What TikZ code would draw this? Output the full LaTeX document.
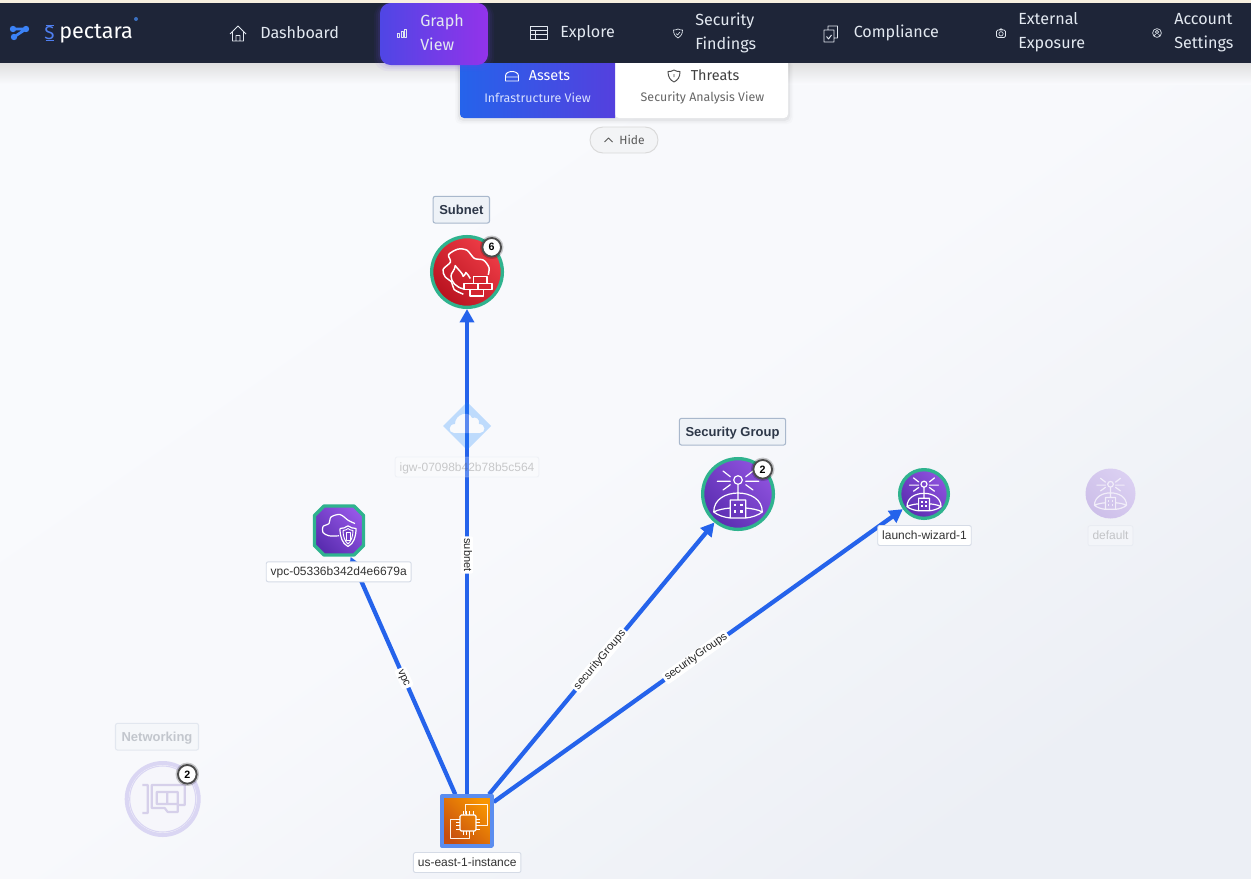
\documentclass[tikz,border=0pt]{standalone}
\usepackage{fontspec}
\setmainfont{Liberation Sans}
\newfontfamily\navfont{Fira Sans}
\usetikzlibrary{arrows.meta,shapes.geometric}
\definecolor{navbg}{HTML}{1E2538}
\definecolor{navtext}{HTML}{E2E8F0}
\definecolor{edgeblue}{HTML}{2563EB}
\definecolor{ringgreen}{HTML}{2FB38E}
\definecolor{titletext}{HTML}{2D3748}
\definecolor{TitleEdge}{HTML}{A9B8CC}
\definecolor{TitleFill}{HTML}{EEF2F7}
\definecolor{NameEdge}{HTML}{D5DBE6}
\definecolor{RedDark}{HTML}{B8121F}
\definecolor{RedLight}{HTML}{EF3D47}
\definecolor{BrickRed}{HTML}{D4242F}
\definecolor{PurpDark}{HTML}{5A2DB0}
\definecolor{PurpLight}{HTML}{8F52DE}
\definecolor{VpcLight}{HTML}{9556E6}
\definecolor{VpcMid}{HTML}{7440C8}
\definecolor{OrangeDark}{HTML}{C64E10}
\definecolor{OrangeLight}{HTML}{F89500}
\definecolor{InstEdge}{HTML}{5B8DEF}
\definecolor{PaleDark}{HTML}{CDBFE9}
\definecolor{PaleLight}{HTML}{DBD0F2}
\definecolor{IconPale}{HTML}{F1EDF9}
\definecolor{NetRing}{HTML}{DAD6F3}
\definecolor{NetFill}{HTML}{F6F6FB}
\definecolor{NetCardc}{HTML}{D6D0EA}
\definecolor{PageTop}{HTML}{F9FAFD}
\definecolor{PageMid}{HTML}{F8F9FC}
\definecolor{PageEnd}{HTML}{ECEFF5}
\definecolor{IgwBlue}{HTML}{1485FF}
\definecolor{TabEnd}{HTML}{5440DE}
\definecolor{TabSubOn}{HTML}{D8E0FF}
\definecolor{HideFill}{HTML}{F3F4F6}
\definecolor{TopStrip}{HTML}{F7EFDF}
\definecolor{GlowBlue}{HTML}{6D4BEA}
\definecolor{ViewLeft}{HTML}{4F46E5}
\definecolor{ViewRight}{HTML}{9333EA}
\definecolor{LogoBlue}{HTML}{3B82F6}
\definecolor{SBlue}{HTML}{4F7FF0}
\definecolor{SDot}{HTML}{3A6FC0}
\pgfdeclarelayer{edgelayer}
\pgfsetlayers{edgelayer,main}
\tikzset{
	gradfill/.style 2 args={shade,shading=axis,top color=#2,bottom color=#1,shading angle=-45},
	assetcirc/.style={circle,inner sep=0,draw=ringgreen,line width=2.5pt,minimum size=#1*.75pt},
	edgeline/.style={draw=edgeblue,line width=3.2pt,-{Triangle[length=10pt,width=10.5pt]}},
	edgelabel/.style={fill=white,rounded corners=1.5pt,inner xsep=1.5pt,inner ysep=.8pt,text height=6pt,text depth=1.7pt,font=\fontsize{8.25}{9}\selectfont,text=black!85},
	titlebox/.style={draw=TitleEdge,fill=TitleFill,rounded corners=1.5pt,line width=.8pt,inner xsep=4.6pt,inner ysep=0,minimum height=20pt,text height=8.5pt,text depth=2pt,font=\fontsize{9.75}{11}\selectfont\bfseries,text=titletext},
	namebox/.style={draw=NameEdge,fill=white,rounded corners=1.5pt,line width=.7pt,inner xsep=3.3pt,inner ysep=0,minimum height=15pt,text height=8pt,text depth=2pt,font=\fontsize{9}{11}\selectfont,text=black!80},
	countbadge/.style={circle,fill=white,draw=black!70,line width=1.4pt,inner sep=0,minimum size=14pt,font=\fontsize{8}{8}\selectfont\bfseries,preaction={draw=black,opacity=.2,line width=3.6pt}},
	navitem/.style={anchor=west,inner sep=0,align=left,font=\navfont\fontsize{12.1}{18}\selectfont,text=navtext},
	tabmain/.style={inner sep=0,font=\navfont\fontsize{10.8}{12}\selectfont},
	tabsub/.style={inner sep=0,font=\navfont\fontsize{9.3}{11}\selectfont},
	navicon/.style={draw=navtext,line width=.7pt,line join=round},
	sgicon/.pic={
		\draw[#1,line width=.9pt,line cap=round] (0,-14) circle (4.3) (0,-9.7)--(0,6)
			(-15,-23)--(-7.7,-17.3) (-20.7,-12.7)--(-7.7,-12.7) (-15,-4)--(-7.7,-9.3)
			(15,-23)--(7.7,-17.3) (20.7,-12.7)--(7.7,-12.7) (15,-4)--(7.7,-9.3)
			(-24.3,18) .. controls (-24.3,5) and (-12,-1) .. (0,-1) .. controls (12,-1) and (24.3,5) .. (24.3,18)
			(-24.3,18) .. controls (-20,15.5) and (-13,14.5) .. (-7.7,14) (24.3,18) .. controls (20,15.5) and (13,14.5) .. (7.7,14)
			(-24.3,18) .. controls (-20,21.5) and (-13,23.5) .. (-7.7,24) (24.3,18) .. controls (20,21.5) and (13,23.5) .. (7.7,24)
			(-7.7,6) rectangle (7.7,24);
		\foreach \wx in {-3.3,3.3} \foreach \wy in {11,17.3}
			\fill[#1] (\wx-1.2,\wy-1.2) rectangle (\wx+1.2,\wy+1.2);
	},
}
\begin{document}
\begin{tikzpicture}[x=.75pt,y=-.75pt,line join=round]
	\useasboundingbox (0,0) rectangle (1251,878);
	% asset nodes
	\node[assetcirc=70.7,gradfill={RedDark}{RedLight}] (subnet) at (467,272) {};
	\node[assetcirc=70.7,gradfill={PurpDark}{PurpLight}] (secgroup) at (738,494) {};
	\node[assetcirc=48.7,gradfill={PurpDark}{PurpLight}] (launch) at (924,494) {};
	\node[rectangle,inner sep=0,minimum size=39pt] (vpc) at (339,530.5) {};
	\node[rectangle,inner sep=0,draw=InstEdge,line width=2.5pt,minimum size=37.5pt,gradfill={OrangeDark}{OrangeLight}] (instance) at (467,821) {};
	\node[circle,inner sep=0,minimum size=37.5pt,gradfill={PaleDark}{PaleLight}] (default) at (1110.5,493.5) {};
	\node[circle,inner sep=0,draw=NetRing,fill=NetFill,line width=3pt,minimum size=54pt] (netcard) at (162.7,799) {};
	% edges and page go under the nodes
	\begin{pgfonlayer}{edgelayer}
	\shade[shading=axis,top color=PageTop,bottom color=PageEnd,middle color=PageMid,shading angle=35] (0,0) rectangle (1251,878);
	\shade[top color=black!14,bottom color=PageTop] (0,60) rectangle (1251,84);
	\draw[edgeline] (instance)--(subnet);
	\draw[edgeline] (instance)--(vpc);
	\draw[edgeline] (instance)--(secgroup);
	\draw[edgeline] (instance)--(launch);
	\end{pgfonlayer}
	% edge labels
	\node[edgelabel,rotate=-90] (lblsubnet) at (467,555) {subnet};
	\node[edgelabel,rotate=-66] (lblvpc) at (404,678) {vpc};
	\node[edgelabel,rotate=50] (lblsg) at (600,660) {securityGroups};
	\node[edgelabel,rotate=35.6] (lblwizard) at (696,657) {securityGroups};
	% igw sits faded on top of the edge
	\begin{scope}[shift={(467,426)}]
	\def\cloudpath{(-13,7) .. controls (-19,7) and (-19,-2) .. (-12,-2) .. controls (-12,-12) and (2,-16) .. (5,-8) .. controls (9,-9.5) and (13,-7) .. (12,-2) .. controls (19,-2) and (19,7) .. (13,7) -- cycle}
	\fill[IgwBlue,opacity=.25,even odd rule] (-24,0)--(0,-24)--(24,0)--(0,24)--cycle \cloudpath;
	\fill[white,opacity=.25] \cloudpath;
	\end{scope}
	% firewall icon
	\begin{scope}[shift={(467,273)},scale=1.1]
	\draw[white,line width=1.1pt] plot[smooth] coordinates {(-3.3,19.3) (-11.7,15) (-14,8.3) (-20,3.3) (-21.7,-3.3) (-15,-10) (-16.7,-16.7) (-8.3,-21.7) (0,-20.7) (6.7,-13.3) (15,-11.7) (20,-5) (19.3,1.7)};
	\draw[white,line width=1.1pt] (3,5) .. controls (2,2.5) and (0,1) .. (-1,-.5) .. controls (-1.5,1) and (-2.5,2.5) .. (-3.5,3) .. controls (-4,0) and (-8,-3) .. (-10.7,-6.7) .. controls (-11,-2) and (-15,0) .. (-14.5,3) .. controls (-14.5,8) and (-10,13) .. (-3,14.5);
	\filldraw[draw=white,fill=BrickRed,line width=1.1pt] (6,3.3) rectangle (18.3,9.3) (-2.7,9.3) rectangle (9.3,15) (10,9.3) rectangle (22.7,15) (2.7,15) rectangle (15,20.7);
	\end{scope}
	% security group icons
	\pic at (738,494) {sgicon=white};
	\pic[scale=.7] at (924,494) {sgicon=white};
	\pic[scale=.66] at (1110.5,493.5) {sgicon=IconPale};
	% vpc octagon and icon
	\begin{scope}[shift={(339,530.5)}]
	\draw[ringgreen,line width=2.5pt,gradfill={PurpDark}{VpcLight}] (-24.5,-15)--(-15,-24.5)--(15,-24.5)--(24.5,-15)--(24.5,15)--(15,24.5)--(-15,24.5)--(-24.5,15)--cycle;
	\draw[white,line width=.9pt] plot[smooth] coordinates {(0,5.3) (-10,5.3) (-16,2) (-16,-4) (-10,-7) (-8,-13.5) (1,-16) (9.5,-10) (16,-7)};
	\filldraw[draw=white,fill=VpcMid,line width=.9pt] (1,-2) .. controls (4,-2) and (7,-3) .. (9,-4.7) .. controls (11,-3) and (14,-2) .. (17,-2) .. controls (17,6) and (15,13) .. (9,16) .. controls (3,13) and (1,6) .. (1,-2);
	\draw[white,line width=.7pt] (4,0) .. controls (6,0) and (8,-1) .. (9,-2) .. controls (10,-1) and (12,0) .. (14,0) .. controls (14,6) and (12,11) .. (9,13.5) .. controls (6,11) and (4,6) .. (4,0);
	\draw[white,line width=.7pt] (7,1.5) rectangle (11,10);
	\end{scope}
	% instance icon
	\begin{scope}[shift={(467,821)}]
	\draw[white!90!orange,line width=.7pt] (-2,-7)--(-2,-17)--(20,-17)--(20,4)--(11,4) (-9,-2)--(-17,-2)--(-17,17)--(2,17)--(2,11);
	\draw[white,line width=.9pt,rounded corners=1pt] (-7,-6) rectangle (9,10);
	\foreach \p in {-4,-.7,2.6,6} {
		\draw[white,line width=.5pt] (\p,-10)--(\p,-6) (\p,10)--(\p,14) (-11,\p+2)--(-7,\p+2) (9,\p+2)--(13,\p+2);
	}
	\end{scope}
	% networking icon
	\begin{scope}[shift={(162.7,799)}]
	\draw[NetRing,line width=.8pt] (0,0) circle (33);
	\draw[NetCardc,line width=1.6pt] (-20.3,-14)--(-15,-14)--(-15,14)--(-20.3,14)
		(-11,-14)--(22,-14)--(22,6)--(15,6)--(15,13)--(5,13)--(2,9)--(-11,9)--cycle
		(-6,-7) rectangle (15,5) (4.5,-7)--(4.5,5);
	\end{scope}
	% badges
	\node[countbadge] (subnetcount) at (491.7,247.3) {6};
	\node[countbadge] (sgcount) at (762.7,469.3) {2};
	\node[countbadge] (netcount) at (187.3,774.3) {2};
	% titles and names
	\node[titlebox] (subnettitle) at (461.3,209.7) {Subnet};
	\node[titlebox] (sgtitle) at (732.5,431.7) {Security Group};
	\node[titlebox,opacity=.25] (nettitle) at (157,736.7) {Networking};
	\node[namebox,opacity=.25] (igwname) at (467,467) {igw-07098b42b78b5c564};
	\node[namebox] (vpcname) at (338.7,571.8) {vpc-05336b342d4e6679a};
	\node[namebox] (launchname) at (924.5,535.5) {launch-wizard-1};
	\node[namebox,opacity=.25] (defaultname) at (1110.5,535.7) {default};
	\node[namebox] (instancename) at (467.2,862.5) {us-east-1-instance};
	% view switch under the bar
	\foreach \d/\o in {5/.015,3.5/.025,2/.04} {
		\fill[black,opacity=\o,rounded corners=4pt] (460-\d,60) rectangle (788+\d,119+\d);
	}
	\fill[white] (615,60) -- (788,60) {[rounded corners=3pt] -- (788,118) -- (615,118)} -- cycle;
	\shade[left color=edgeblue,right color=TabEnd] (460,60) {[rounded corners=3pt] -- (460,118)} -- (615,118) -- (615,60) -- cycle;
	\draw[white,line width=.7pt] (505.5,81) -- (505.5,76) .. controls (505.5,70) and (518.5,70) .. (518.5,76) -- (518.5,81) -- cycle (505.5,77) -- (518.5,77);
	\draw[black!70,line width=.7pt] (674,70) .. controls (676,71.5) and (678,71.5) .. (680,71.5) .. controls (680,77) and (678,80) .. (674,82) .. controls (670,80) and (668,77) .. (668,71.5) .. controls (670,71.5) and (672,71.5) .. (674,70) (674,74)--(674,77);
	\node[tabmain,text=white] (assets) at (549.5,75.5) {Assets};
	\node[tabsub,text=TabSubOn] (assetssub) at (537.5,97.5) {Infrastructure View};
	\node[tabmain,text=black!75] (threats) at (715,75.5) {Threats};
	\node[tabsub,text=black!60] (threatssub) at (702.5,97.5) {Security Analysis View};
	\node[draw=black!15,fill=HideFill,rounded corners=9.7pt,minimum width=51pt,minimum height=19.5pt,inner sep=0,line width=.7pt] (hidebtn) at (624,140) {};
	\draw[black!65,line width=.7pt] (604.5,142)--(608.5,138)--(612.5,142);
	\node[inner sep=0,font=\navfont\fontsize{9}{11}\selectfont,text=black!65] (hidetext) at (632,140) {Hide};
	% top bar
	\fill[TopStrip] (0,0) rectangle (1251,3);
	\fill[navbg] (0,3) rectangle (1251,63);
	\foreach \d/\o in {6/.05,4/.07,2/.09} {
		\fill[GlowBlue,opacity=\o,rounded corners=10pt] (380-\d,3) rectangle (488+\d,65+\d);
	}
	\shade[left color=ViewLeft,right color=ViewRight,rounded corners=8pt] (380,3) rectangle (488,65);
	% logo
	\draw[LogoBlue,line width=2pt] (13,29)--(26,29)--(14,37);
	\foreach \dx/\dy in {13/29,26/29,14/37} {
		\fill[LogoBlue] (\dx,\dy) circle (3.2);
	}
	\node[inner sep=0,font=\navfont\fontsize{14}{14}\selectfont,text=SBlue] (logos) at (49.5,33) {S};
	\draw[SBlue,line width=.6pt] (45.5,25.5)--(53.5,25.5) (45.5,40.5)--(53.5,40.5);
	\node[inner sep=0,anchor=west,font=\navfont\fontsize{16.2}{18}\selectfont,text=white] (logotext) at (59,34) {pectara};
	\fill[SDot] (136,19) circle (2);
	% nav entries
	\node[navitem] (navdash) at (260,33) {Dashboard};
	\node[navitem] (navexplore) at (560,33) {Explore};
	\node[navitem] (navcomply) at (853.5,33) {Compliance};
	\foreach \n/\x/\t in {graph/420/{Graph\\View},findings/695/{Security\\Findings},exposure/1018/{External\\Exposure},account/1174/{Account\\Settings}} {
		\node[navitem] (nav\n) at (\x,32.6) {\t};
	}
	% nav icons
	\draw[navicon] (230,34)--(238,26)--(246,34) (232.5,32)--(232.5,41)--(243.5,41)--(243.5,32) (236,41)--(236,35.5)--(240,35.5)--(240,41);
	\draw[navicon,line width=.5pt] (397.5,33.5) rectangle (399.5,37) (401,31.5) rectangle (403,37) (404.5,29) rectangle (406.5,37);
	\draw[navicon] (530,26) rectangle (547,39) (530,30)--(547,30) (530,34.5)--(547,34.5) (535.5,30)--(535.5,39);
	\draw[navicon,line width=.5pt] (678,29) .. controls (679,29.8) and (681,30) .. (682.5,30) .. controls (682.5,34) and (681,36) .. (678,38) .. controls (675,36) and (673.5,34) .. (673.5,30) .. controls (675,30) and (677,29.8) .. (678,29) (676,33.5)--(677.5,35)--(680,32);
	\draw[navicon] (824,30) rectangle (834,42) (828,30)--(828,26)--(837.5,26)--(837.5,38)--(834,38) (826.5,36.5)--(828.5,39)--(831.5,35);
	\draw[navicon,line width=.5pt,rounded corners=1pt] (996.5,30) rectangle (1005.5,37.5) (1001,33.8) circle (2.2) (999,30)--(999.5,28.8)--(1002.5,28.8)--(1003,30);
	\draw[navicon,line width=.5pt] (1157,33) circle (4.4) (1157,32) circle (1.7) (1154,36)--(1155.5,34) (1160,36)--(1158.5,34);
\end{tikzpicture}
\end{document}
